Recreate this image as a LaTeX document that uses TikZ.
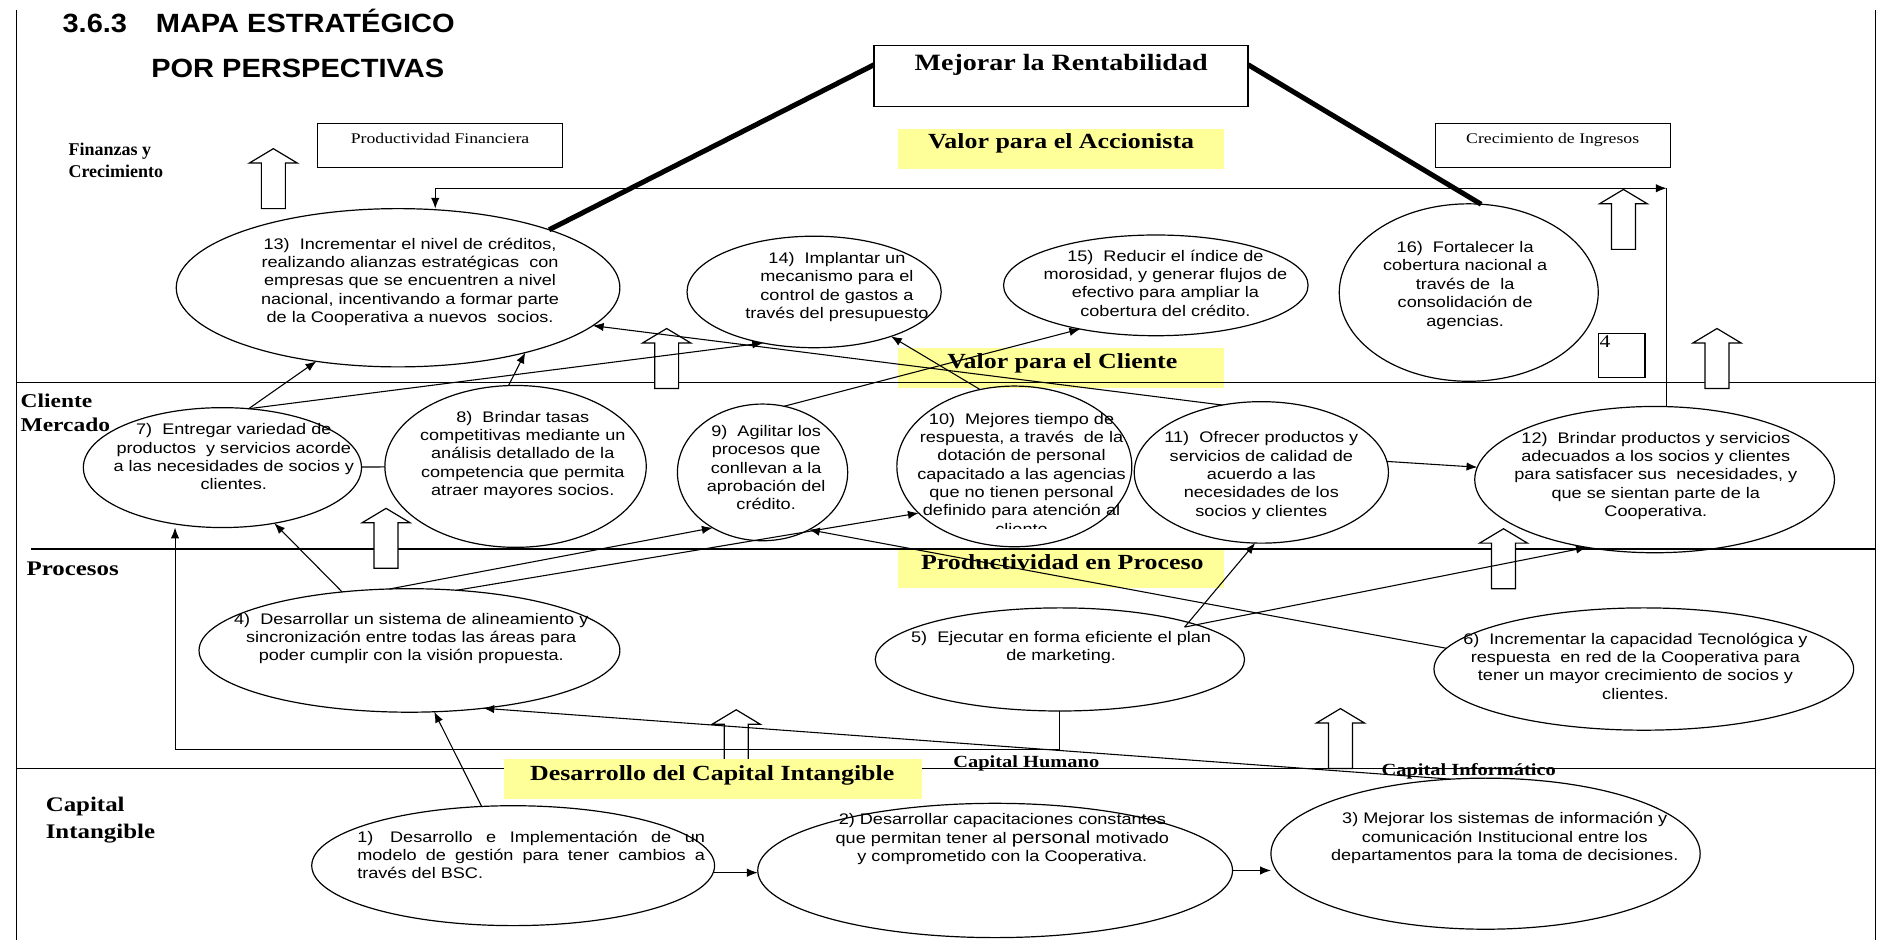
\documentclass[tikz,border=0pt]{standalone}
\usepackage{fontspec}
\setmainfont{Liberation Serif}
\newfontfamily\arialx[FakeStretch=1.18]{Liberation Sans}
\newfontfamily\timesx[FakeStretch=1.2]{Liberation Serif}
\newfontfamily\titlex[FakeStretch=1.1]{Liberation Sans}
\usepackage{tikz}
\usetikzlibrary{shapes.geometric,arrows.meta,positioning,calc}
\definecolor{yelbox}{RGB}{255,255,153}
\tikzset{
	ell/.style={draw, ellipse, line width=1pt, inner sep=0pt, outer sep=0pt},
	etxt/.style={align=center, inner sep=0pt, font=\arialx\fontsize{12.8}{15.3}\selectfont},
	ttl/.style={anchor=base west, inner sep=0pt, font=\titlex\bfseries\fontsize{22}{24}\selectfont},
	per/.style={anchor=base west, inner sep=0pt, font=\timesx\bfseries\fontsize{17.3}{18}\selectfont},
	ylab/.style={anchor=base, inner sep=0pt, font=\timesx\bfseries\fontsize{18}{20}\selectfont},
	blab/.style={anchor=base, inner sep=0pt, font=\timesx\fontsize{12.3}{14}\selectfont},
	clab/.style={anchor=base, inner sep=0pt, font=\timesx\bfseries\fontsize{14.2}{16}\selectfont},
	yel/.style={fill=yelbox, inner sep=0pt, outer sep=0pt},
	rbox/.style={draw, line width=1pt, inner sep=0pt, outer sep=0pt},
	band/.style={line width=1.1pt},
	arr/.style={-{Latex[length=9pt,width=7pt]}, line width=0.9pt},
	arrr/.style={{Latex[length=9pt,width=7pt]}-{Latex[length=9pt,width=7pt]}, line width=0.9pt},
	thk/.style={line width=4.2pt},
	blk/.style={draw, fill=white, line width=1pt}
}
\begin{document}
\begin{tikzpicture}[x=1pt,y=-1pt]
	\useasboundingbox (0,0) rectangle (1568,784);
	% yellow titles of the perspectives
	\node[yel, minimum width=272pt, minimum height=33pt] (acc) at (885,124.5) {};
	\node[yel, minimum width=272pt, minimum height=34pt] (cli) at (885,307) {};
	\node[yel, minimum width=272pt, minimum height=33pt] (pro) at (885,473.5) {};
	\node[ylab] (lacc) at (885,123.7) {Valor para el Accionista};
	\node[ylab] (lcli) at (886,307) {Valor para el Cliente};
	\node[ylab] (lpro) at (886,475) {Productividad en Proceso};
	% frame and bands
	\draw[band] (14,8) -- (14,784);
	\draw[band] (1564,8) -- (1564,784);
	\draw[band] (14,319) -- (1564,319);
	\draw[band] (26,458) -- (1564,458);
	\draw[band] (14,641) -- (1564,641);
	\foreach \x/\y in {228/124,556/274,322/424,614/592,1118/591,1254/441,1354/158,1432/274}
		\draw[blk] (\x,\y) -- ++(20,12) -- ++(-10,0) -- ++(0,38) -- ++(-20,0) -- ++(0,-38) -- ++(-10,0) -- cycle;
	\node[yel, minimum width=349pt, minimum height=33pt] (des) at (594.5,649.5) {};
	\node[ylab] (ldes) at (594,651) {Desarrollo del Capital Intangible};
	\node[clab] (chum) at (856,640) {Capital Humano};
	\node[clab] (cinf) at (1225,647) {Capital Informático};
	% titles
	\node[ttl] (ttl1) at (52,27) {3.6.3\hspace{24pt}MAPA ESTRATÉGICO};
	\node[ttl] (ttl2) at (126,65) {POR PERSPECTIVAS};
	\node[per, font=\bfseries\fontsize{15}{16}\selectfont] (pf1) at (57,130) {Finanzas y};
	\node[per, font=\bfseries\fontsize{15}{16}\selectfont] (pf2) at (57,148) {Crecimiento};
	\node[per, font=\timesx\bfseries\fontsize{16.3}{18}\selectfont] (pc1) at (17,340) {Cliente};
	\node[per, font=\timesx\bfseries\fontsize{16.3}{18}\selectfont] (pc2) at (17,360) {Mercado};
	\node[per] (pp1) at (22,480) {Procesos};
	\node[per] (pi1) at (38,677) {Capital};
	\node[per] (pi2) at (38,699) {Intangible};
	% boxes
	\node[rbox, line width=1.1pt, minimum width=312pt, minimum height=51pt] (mej) at (885,63.5) {};
	\node[ylab, font=\timesx\bfseries\fontsize{19.5}{20}\selectfont] (lmej) at (885,59) {Mejorar la Rentabilidad};
	\node[rbox, minimum width=204pt, minimum height=37pt] (pfin) at (367,121.5) {};
	\node[blab] (lpfin) at (367,120) {Productividad Financiera};
	\node[rbox, minimum width=196pt, minimum height=37pt] (cing) at (1295,121.5) {};
	\node[blab] (lcing) at (1295,120) {Crecimiento de Ingresos};
	\node[rbox, minimum width=39pt, minimum height=37pt] (b4) at (1352.5,296.5) {};
	\node[blab, anchor=base west, font=\timesx\fontsize{15}{16}\selectfont] (l4) at (1334,290) {4};
	% objectives
	\foreach \n/\x/\y/\w/\h in {13/332/240/370/132, 14/679/243.5/212/93, 15/964/238/254/84, 16/1225/244/216/148,
		7/185.5/390/232/100, 8/430/389/218/135, 9/636/394/142/114, 10/846/389/196/134, 11/1052/394/212/118, 12/1380/400/300/122,
		4/341.5/542.5/351/103, 5/884/550/308/86, 6/1371/558/350/102, 1/428/722/336/100, 2/830/726/396/112, 3/1239/712/358/126}
		\node[ell, minimum width=\w pt, minimum height=\h pt] (e\n) at (\x,\y) {};
	\node[etxt] (t13) at (342,235) {13)\ \ Incrementar el nivel de créditos,\\realizando alianzas estratégicas\ \ con\\empresas que se encuentren a nivel\\nacional, incentivando a formar parte\\de la Cooperativa a nuevos\ \ socios.};
	\node[etxt] (t14) at (698,239.5) {14)\ \ Implantar un\\mecanismo para el\\control de gastos a\\través del presupuesto};
	\node[etxt] (t15) at (972,236) {15)\ \ Reducir el índice de\\morosidad, y generar flujos de\\efectivo para ampliar la\\cobertura del crédito.};
	\node[etxt] (t16) at (1222,238) {16)\ \ Fortalecer la\\cobertura nacional a\\través de\ \ la\\consolidación de\\agencias.};
	\node[etxt] (t7) at (195,381) {7)\ \ Entregar variedad de\\productos\ \ y servicios acorde\\a las necesidades de socios y\\clientes.};
	\node[etxt] (t8) at (436,379.5) {8)\ \ Brindar tasas\\competitivas mediante un\\análisis detallado de la\\competencia que permita\\atraer mayores socios.};
	\node[etxt] (t9) at (639,390) {9)\ \ Agilitar los\\procesos que\\conllevan a la\\aprobación del\\crédito.};
	\begin{scope}
		\clip (740,300) rectangle (960,441);
		\node[etxt] (t10) at (852,395) {10)\ \ Mejores tiempo de\\respuesta, a través\ \ de la\\dotación de personal\\capacitado a las agencias\\que no tienen personal\\definido para atención al\\cliente};
	\end{scope}
	\node[etxt] (t11) at (1052,396.5) {11)\ \ Ofrecer productos y\\servicios de calidad de\\acuerdo a las\\necesidades de los\\socios y clientes};
	\node[etxt] (t12) at (1381,397) {12)\ \ Brindar productos y servicios\\adecuados a los socios y clientes\\para satisfacer sus\ \ necesidades, y\\que se sientan parte de la\\Cooperativa.};
	\node[etxt] (t4) at (343,532.5) {4)\ \ Desarrollar un sistema de alineamiento y\\sincronización entre todas las áreas para\\poder cumplir con la visión propuesta.};
	\node[etxt] (t5) at (885,540) {5)\ \ Ejecutar en forma eficiente el plan\\de marketing.};
	\node[etxt] (t6) at (1364,555.5) {6)\ \ Incrementar la capacidad Tecnológica y\\respuesta\ \ en red de la Cooperativa para\\tener un mayor crecimiento de socios y\\clientes.};
	\node[etxt, align=left] (t1) at (443,713) {\makebox[290pt][s]{1)\hspace{14pt}Desarrollo e Implementación de un}\\\makebox[290pt][s]{modelo de gestión para tener cambios a}\\través del BSC.};
	\node[etxt] (t2) at (836,700) {2) Desarrollar capacitaciones constantes\\que permitan tener al {\fontsize{14.5}{15.3}\selectfont personal} motivado\\y comprometido con la Cooperativa.};
	\node[etxt] (t3) at (1255,699) {3) Mejorar los sistemas de información y\\comunicación Institucional entre los\\departamentos para la toma de decisiones.};
	% links
	\coordinate (cr) at (1390,157);
	\coordinate (c13) at (363,157);
	\draw[arrr] (e13.north -| c13) -- (c13) -- (cr);
	\draw[line width=0.9pt] (cr) -- (cr |- e12.north);
	\draw[thk] (e13.21) -- ([yshift=-16pt]mej.north west);
	\draw[thk] ([yshift=-16pt]mej.north east) -- (e16.82);
	\draw[arr] (e7.66) -- (e13.222);
	\draw[arr] (e7.66) -- (e14.225);
	\draw[arr] (e8.95) -- (e13.333);
	\draw[arr] (e9.72) -- (e15.210);
	\draw[arr] (e10.114) -- (e14.330);
	\draw[arr] (e11.120) -- (e13.349);
	\draw[arr] (e11.5) -- (e12.176);
	\draw[line width=0.9pt] (e7) -- (e8);
	\draw[arr] (e4.139) -- (e7.313);
	\draw[arr] (e4.108) -- (e9.228);
	\draw[arr] (e4.52) -- (e10.206);
	\coordinate (s5) at (988,523);
	\draw[arr] (s5) -- (e11.265);
	\draw[arr] (s5) -- (e12.225);
	\draw[arr] (e6.174) -- (e9.309);
	\draw[arr] (e3.115) -- (e4.322);
	\draw[arr] (e1.118) -- (e4.292);
	\draw[arr] (e1.358) -- (e1.358 -| e2.west);
	\draw[arr] (e2.east) -- (e2.east -| e3.west);
	\coordinate (lp) at (146,625);
	\draw[arr] (e5.south) |- (lp) -- (lp |- e7.south);
\end{tikzpicture}
\end{document}
